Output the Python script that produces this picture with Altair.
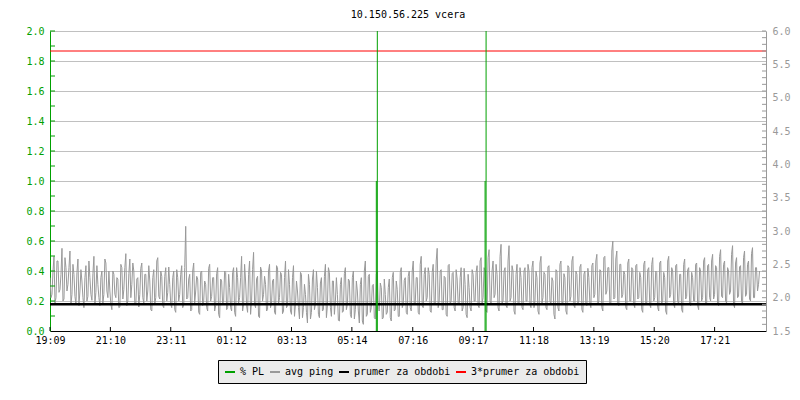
import altair as alt
import pandas as pd

# ---- data -----------------------------------------------------------------
title_text = "10.150.56.225 vcera"
series_names = ["% PL", "avg ping", "prumer za obdobi", "3*prumer za obdobi"]
series_colors = ["#00a000", "#999999", "#000000", "#ff0000"]

# x axis: minutes after 19:09 and their labels
tick_minutes = [0, 121, 242, 363, 484, 605, 727, 848, 969, 1090, 1211, 1332]
tick_labels = ["19:09", "21:10", "23:11", "01:12", "03:13", "05:14",
               "07:16", "09:17", "11:18", "13:19", "15:20", "17:21"]
x_end_minute = 1435

# avg ping samples (ms), right axis; set A at minutes 0,4,8,... set B at 2,6,10,...
ping_step = 4
ping_ms_a = [
    2.30, 2.05, 2.62, 2.00, 2.55, 2.12, 2.74, 1.98, 2.45, 2.20, 2.70, 2.05, 2.35, 1.90, 2.58,
    2.10, 2.25, 1.85, 2.48, 2.02, 2.30, 1.96, 2.62, 2.08, 2.20, 1.88, 2.40, 2.05, 2.52, 2.00,
    2.10, 1.82, 2.35, 2.00, 2.28, 1.86, 2.45, 2.12, 2.66, 1.95, 2.58, 2.20, 2.40, 1.90, 2.30,
    2.05, 2.52, 1.92, 2.35, 2.10, 2.25, 1.80, 2.42, 2.00, 2.60, 1.98, 2.32, 1.85, 2.45, 2.08,
    2.20, 1.85, 2.40, 1.78, 2.30, 2.05, 2.48, 1.90, 3.07, 2.00, 2.35, 1.82, 2.52, 2.10, 2.28,
    1.75, 2.40, 1.95, 2.20, 1.80, 2.50, 2.02, 2.30, 1.88, 2.45, 1.70, 2.25, 1.95, 2.38, 1.85,
    2.15, 1.80, 2.45, 1.72, 2.30, 2.00, 2.62, 1.90, 2.25, 1.78, 2.55, 1.95, 2.68, 1.85, 2.32,
    1.70, 2.40, 2.05, 2.20, 1.82, 2.50, 1.92, 2.28, 1.75, 2.45, 2.00, 2.35, 1.80, 2.55, 1.88,
    2.20, 1.75, 2.48, 1.90, 2.10, 1.68, 2.35, 1.85, 2.05, 1.62, 2.20, 1.78, 2.42, 1.90, 2.15,
    1.70, 2.30, 1.82, 2.50, 1.88, 2.38, 1.72, 2.25, 1.95, 2.05, 1.65, 2.30, 1.80, 2.45, 1.90,
    2.25, 1.70, 2.40, 1.82, 2.10, 1.62, 2.30, 1.60, 2.55, 1.75, 2.35, 1.85, 2.20, 1.68, 2.40,
    1.80, 2.15, 1.70, 2.05, 1.78, 2.28, 1.65, 2.38, 1.82, 2.12, 1.72, 2.45, 1.90, 2.30, 1.75,
    2.40, 1.80, 2.55, 1.92, 2.30, 1.75, 2.62, 1.85, 2.45, 2.00, 2.35, 1.78, 2.50, 1.90, 2.74,
    1.95, 2.42, 1.82, 2.30, 1.72, 2.50, 1.95, 2.38, 1.80, 2.28, 1.90, 2.45, 1.85, 2.20, 1.70,
    2.15, 1.80, 2.35, 1.95, 2.48, 1.85, 2.60, 2.00, 2.40, 1.78, 2.72, 1.92, 2.55, 2.05, 2.35,
    1.80, 2.80, 1.95, 2.45, 1.85, 2.78, 2.00, 2.40, 1.75, 2.50, 1.90, 2.30, 1.82, 2.45, 1.95,
    2.40, 1.85, 2.55, 1.95, 2.30, 1.75, 2.62, 2.00, 2.35, 1.82, 2.48, 1.90, 2.25, 1.68, 2.40,
    1.80, 2.55, 1.92, 2.30, 1.75, 2.45, 2.02, 2.62, 1.85, 2.35, 1.95, 2.50, 1.78, 2.40, 1.88,
    2.30, 1.85, 2.52, 2.05, 2.65, 1.95, 2.40, 1.80, 2.62, 2.10, 2.45, 1.90, 2.85, 2.00, 2.70,
    1.88, 2.50, 2.05, 2.35, 1.82, 2.58, 1.95, 2.42, 1.85, 2.50, 2.00, 2.30, 1.78, 2.55, 1.92,
    2.45, 1.85, 2.60, 2.00, 2.38, 1.80, 2.55, 1.95, 2.30, 1.75, 2.62, 2.05, 2.40, 1.85, 2.50,
    1.90, 2.35, 1.78, 2.58, 2.02, 2.45, 1.88, 2.30, 1.95, 2.52, 1.82, 2.40, 2.00, 2.60, 1.90,
    2.50, 1.95, 2.65, 2.05, 2.45, 1.88, 2.72, 2.00, 2.55, 1.92, 2.40, 2.10, 2.78, 1.85, 2.60,
    2.02, 2.48, 1.90, 2.70, 2.05, 2.55, 1.95, 2.75, 2.00, 2.45, 2.20,
]
ping_ms_b = [
    2.00, 2.40, 1.92, 2.55, 2.08, 2.35, 1.95, 2.60, 2.10, 2.45, 1.90, 2.50, 2.02, 2.38, 1.88,
    2.42, 2.00, 2.30, 1.95, 2.55, 2.05, 2.36, 1.90, 2.48, 2.00, 2.30, 1.92, 2.58, 2.10, 2.40,
    1.90, 2.40, 2.05, 2.30, 1.85, 2.50, 1.98, 2.45, 1.88, 2.36, 2.00, 2.52, 1.92, 2.28, 1.86,
    2.44, 2.00, 2.35, 1.95, 2.48, 1.82, 2.30, 1.90, 2.55, 2.02, 2.40, 1.88, 2.32, 1.95, 2.46,
    1.90, 2.30, 1.82, 2.42, 1.95, 2.35, 1.85, 2.45, 1.98, 2.28, 1.80, 2.40, 1.92, 2.32, 1.78,
    2.38, 1.88, 2.25, 1.85, 2.44, 1.95, 2.30, 1.80, 2.36, 1.75, 2.28, 1.90, 2.40, 1.82, 2.35,
    1.85, 2.38, 1.78, 2.45, 1.92, 2.30, 1.80, 2.50, 1.88, 2.35, 1.75, 2.42, 1.90, 2.28, 1.72,
    2.46, 1.95, 2.32, 1.80, 2.40, 1.85, 2.25, 1.78, 2.48, 1.90, 2.38, 1.76, 2.30, 1.85, 2.42,
    1.80, 2.30, 1.72, 2.25, 1.85, 2.38, 1.70, 2.20, 1.78, 2.35, 1.68, 2.28, 1.82, 2.40, 1.75,
    2.22, 1.80, 2.32, 1.70, 2.45, 1.85, 2.25, 1.75, 2.30, 1.66, 2.20, 1.78, 2.36, 1.82, 2.28,
    1.75, 2.30, 1.68, 2.25, 1.80, 2.20, 1.65, 2.40, 1.72, 2.32, 1.78, 2.18, 1.70, 2.35, 1.82,
    2.22, 1.68, 2.28, 1.75, 2.15, 1.70, 2.30, 1.80, 2.25, 1.72, 2.38, 1.85, 2.26, 1.78, 2.32,
    1.85, 2.40, 1.90, 2.30, 1.78, 2.50, 1.88, 2.35, 1.95, 2.45, 1.80, 2.38, 1.92, 2.55, 1.85,
    2.40, 1.82, 2.32, 1.75, 2.48, 1.90, 2.36, 1.85, 2.42, 1.92, 2.30, 1.80, 2.44, 1.75, 2.35,
    1.85, 2.42, 1.95, 2.38, 1.88, 2.55, 1.92, 2.45, 1.80, 2.60, 1.95, 2.40, 2.00, 2.50, 1.85,
    2.62, 1.92, 2.40, 1.88, 2.55, 1.95, 2.48, 1.80, 2.35, 1.92, 2.45, 1.85, 2.40, 1.95, 2.50,
    1.90, 2.45, 1.85, 2.40, 1.80, 2.52, 1.92, 2.38, 1.85, 2.46, 1.95, 2.30, 1.75, 2.42, 1.85,
    2.50, 1.92, 2.36, 1.80, 2.48, 1.95, 2.55, 1.88, 2.40, 1.92, 2.46, 1.82, 2.35, 1.90, 2.44,
    1.92, 2.48, 2.00, 2.55, 1.90, 2.42, 1.85, 2.60, 2.05, 2.45, 1.92, 2.70, 1.98, 2.58, 1.90,
    2.50, 2.00, 2.40, 1.85, 2.52, 1.95, 2.45, 1.90, 2.48, 1.98, 2.38, 1.82, 2.50, 1.92, 2.42,
    1.90, 2.50, 1.95, 2.40, 1.85, 2.52, 1.92, 2.38, 1.80, 2.55, 2.00, 2.45, 1.90, 2.48, 1.95,
    2.35, 1.82, 2.50, 1.98, 2.42, 1.92, 2.38, 1.95, 2.50, 1.88, 2.45, 1.95, 2.55, 1.92, 2.48,
    2.00, 2.55, 1.98, 2.48, 1.92, 2.62, 2.02, 2.50, 1.95, 2.45, 2.05, 2.65, 1.90, 2.52, 2.00,
    2.46, 1.95, 2.60, 2.02, 2.50, 1.98, 2.66, 2.00, 2.45, 2.10, 2.40,
]
ping_minutes_a = [i * ping_step for i in range(len(ping_ms_a))]
ping_minutes_b = [i * ping_step + ping_step // 2 for i in range(len(ping_ms_b))]

# packet loss spikes (left axis, %), minutes after 19:09
pl_minutes = [654, 656, 872, 874]
pl_values = [1.0, 3.0, 1.0, 3.0]

# reference lines (ms, right axis)
mean_ms = 1.9
triple_mean_ms = 5.7

left_ticks = [0.0, 0.2, 0.4, 0.6, 0.8, 1.0, 1.2, 1.4, 1.6, 1.8, 2.0]
left_minor_ticks = [0.1, 0.2, 0.3, 0.4, 0.5, 0.6, 0.7, 0.8, 0.9, 1.0,
                    1.1, 1.2, 1.3, 1.4, 1.5, 1.6, 1.7, 1.8, 1.9, 2.0]
right_ticks = [1.5, 2.0, 2.5, 3.0, 3.5, 4.0, 4.5, 5.0, 5.5, 6.0]
right_minor_ticks = [1.6, 1.7, 1.8, 1.9, 2.0, 2.1, 2.2, 2.3, 2.4, 2.5, 2.6, 2.7, 2.8,
                     2.9, 3.0, 3.1, 3.2, 3.3, 3.4, 3.5, 3.6, 3.7, 3.8, 3.9, 4.0, 4.1,
                     4.2, 4.3, 4.4, 4.5, 4.6, 4.7, 4.8, 4.9, 5.0, 5.1, 5.2, 5.3, 5.4,
                     5.5, 5.6, 5.7, 5.8, 5.9, 6.0]

# ---- tables ---------------------------------------------------------------
ping_df = pd.DataFrame({"minute": ping_minutes_a + ping_minutes_b,
                        "ms": ping_ms_a + ping_ms_b,
                        "series": series_names[1]}).sort_values("minute")
pl_df = pd.DataFrame({"minute": pl_minutes, "pl": pl_values,
                      "base": [0.0] * len(pl_values), "series": series_names[0]})
ref_df = pd.DataFrame({"ms": [mean_ms, triple_mean_ms],
                       "series": [series_names[2], series_names[3]]})
lt_df = pd.DataFrame({"v": left_minor_ticks})
rt_df = pd.DataFrame({"ms": right_minor_ticks})
bt_df = pd.DataFrame({"minute": tick_minutes})

FONT = "DejaVu Sans Mono"
GREEN = series_colors[0]
W, H = 716, 300
TICK = 4

label_expr = ("[" + ",".join("'%s'" % t for t in tick_labels) + "][indexof(["
              + ",".join(str(m) for m in tick_minutes) + "], datum.value)]")

xscale = alt.Scale(domain=[0, x_end_minute], nice=False, zero=False)
x_axis = alt.Axis(values=tick_minutes, labelExpr=label_expr, title=None,
                  domainColor="black", ticks=False, labelColor="black",
                  labelFont=FONT, labelFontSize=10, labelPadding=4,
                  grid=False, labelFlush=False)
color = alt.Color("series:N",
                  scale=alt.Scale(domain=series_names, range=series_colors),
                  legend=alt.Legend(title=None, orient="none", legendX=168, legendY=329,
                                    direction="horizontal", columns=4,
                                    symbolType="stroke", symbolStrokeWidth=2,
                                    symbolSize=100, labelFont=FONT, labelFontSize=10,
                                    labelColor="black", fillColor="#ebebeb",
                                    strokeColor="black", padding=6,
                                    columnPadding=1, labelOffset=4))

right_axis = alt.Axis(orient="right", values=right_ticks, format=".1f",
                      labelColor="#999999", domainColor="#999999", ticks=False,
                      labelFont=FONT, labelFontSize=10, labelPadding=6,
                      grid=False, title=None)
rscale = alt.Scale(domain=[1.5, 6.0], nice=False, zero=False)

left_axis = alt.Axis(orient="left", values=left_ticks, format=".1f",
                     labelColor=GREEN, domainColor=GREEN, ticks=False,
                     labelFont=FONT, labelFontSize=10, labelPadding=6,
                     grid=True, gridColor="#c0c0c0", gridWidth=1, title=None)
lscale = alt.Scale(domain=[0, 2.0], nice=False)

ping_line = alt.Chart(ping_df).mark_line(strokeWidth=1, clip=True).encode(
    x=alt.X("minute:Q", scale=xscale, axis=x_axis),
    y=alt.Y("ms:Q", scale=rscale, axis=right_axis),
    color=color,
    order="minute:Q",
)

ref_lines = alt.Chart(ref_df).mark_rule().encode(
    y=alt.Y("ms:Q", scale=rscale, axis=right_axis),
    color=color,
    strokeWidth=alt.condition(alt.datum.series == series_names[2],
                              alt.value(2.5), alt.value(1)),
)

right_ticks_marks = alt.Chart(rt_df).mark_rule(color="#999999", strokeWidth=1).encode(
    y=alt.Y("ms:Q", scale=rscale, axis=right_axis),
    x=alt.value(W - TICK), x2=alt.value(W),
)

right_layer = alt.layer(ping_line, ref_lines, right_ticks_marks)

pl_rules = alt.Chart(pl_df).mark_rule(clip=True, strokeWidth=1).encode(
    x=alt.X("minute:Q", scale=xscale, axis=x_axis),
    y=alt.Y("base:Q", scale=lscale, axis=left_axis),
    y2="pl:Q",
    color=color,
)

left_tick_marks = alt.Chart(lt_df).mark_rule(color=GREEN, strokeWidth=1).encode(
    y=alt.Y("v:Q", scale=lscale, axis=left_axis),
    x=alt.value(0), x2=alt.value(TICK + 1),
)

bottom_tick_marks = alt.Chart(bt_df).mark_rule(color="black", strokeWidth=1).encode(
    x=alt.X("minute:Q", scale=xscale, axis=x_axis),
    y=alt.value(H - TICK), y2=alt.value(H),
)

left_layer = alt.layer(pl_rules, left_tick_marks, bottom_tick_marks)

chart = alt.layer(right_layer, left_layer).resolve_scale(y="independent").properties(
    width=W, height=H,
    title=alt.TitleParams(title_text, font=FONT, fontSize=10, fontWeight="normal",
                          color="black", anchor="middle", offset=6),
    autosize=alt.AutoSizeParams(type="none"),
    padding={"left": 42, "top": 23, "right": 26, "bottom": 60},
).configure_view(stroke=None).configure_axis(domainWidth=1)

chart.save("out.html", embed_options={"renderer": "svg", "actions": False})
